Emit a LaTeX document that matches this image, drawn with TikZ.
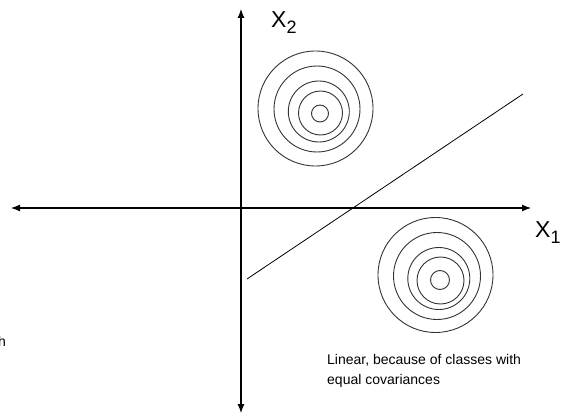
\documentclass[tikz,border=0pt]{standalone}
\usepackage{fontspec}
\setmainfont{Liberation Sans}
\usetikzlibrary{arrows.meta}
\begin{document}
\begin{tikzpicture}[x=1pt,y=-1pt,
  axis/.style={line width=1.1pt,-{Latex[length=9pt,width=7pt]}},
  ring/.style={line width=0.9pt,draw=black!80},
  lbl/.style={inner sep=0pt,anchor=base west,font=\fontsize{23}{25}\selectfont},
  note/.style={inner sep=0pt,anchor=base west,align=left,font=\fontsize{14}{19.5}\selectfont}]
\useasboundingbox (0,0) rectangle (566,420);
% axes
\coordinate (o) at (241,208);
\coordinate (xl) at (11,208);
\coordinate (xr) at (531,208);
\coordinate (yt) at (241,9);
\coordinate (yb) at (241,413);
\draw[axis] (o) -- (xr);
\draw[axis] (o) -- (xl);
\draw[axis] (o) -- (yt);
\draw[axis] (o) -- (yb);
% labels
\node[lbl] (x2) at (271,28) {X\raisebox{-6pt}{\fontsize{18}{18}\selectfont 2}};
\node[lbl] (x1) at (535,237) {X\raisebox{-6pt}{\fontsize{18}{18}\selectfont 1}};
% upper circles
\foreach \cx/\cy/\r in {315.5/108.5/57.5, 317/109/43, 318.8/111.5/30.5, 320.5/113/22, 320/113.5/8.5}
  \draw[ring] (\cx,\cy) circle[radius=\r];
% lower circles
\foreach \cx/\cy/\r in {435.5/275/57.5, 437/276/43.5, 438.8/278.5/31, 440.5/280.5/23.5, 440/280/9.5}
  \draw[ring] (\cx,\cy) circle[radius=\r];
% boundary line
\coordinate (la) at (247,279);
\coordinate (lb) at (523,94);
\draw[line width=0.8pt] (la) -- (lb);
% note (base anchor = last line)
\node[note] (n) at (327,384) {Linear, because of classes with\\equal covariances};
\node[note,anchor=base east] (h) at (6,346) {h};
\end{tikzpicture}
\end{document}
